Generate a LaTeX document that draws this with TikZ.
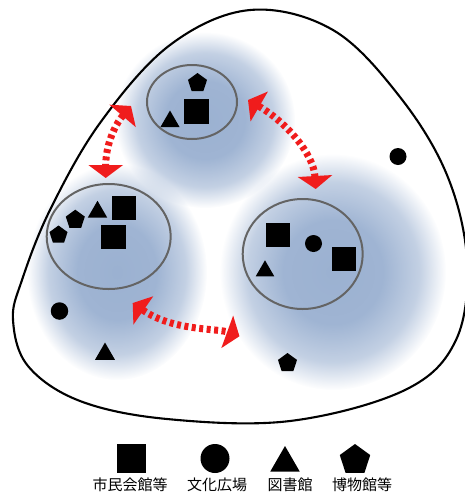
\documentclass[tikz,border=0pt]{standalone}
\usepackage{fontspec}
\newfontfamily\jpfont{Noto Sans CJK JP}
\usepackage{color}
\usepackage{tikz}
\usetikzlibrary{shapes.geometric,arrows.meta,fadings}
\definecolor{zoneblue}{RGB}{155,177,209}
\definecolor{ringgray}{RGB}{100,100,100}
\definecolor{linkred}{RGB}{240,28,28}
\pgfdeclareradialshading{zoneshade}{\pgfpointorigin}{color(0bp)=(transparent!0); color(11bp)=(transparent!4); color(19bp)=(transparent!40); color(25bp)=(transparent!100); color(50bp)=(transparent!100)}
\pgfdeclarefading{zonefade}{\pgfuseshading{zoneshade}}

\begin{document}
\begin{tikzpicture}[x=1pt,y=-1pt,
  zone/.style={ellipse,draw=ringgray,line width=2pt,inner sep=0pt},
  hall/.style={fill=black,inner sep=0pt,minimum size=#1},hall/.default=24pt,
  plaza/.style={circle,fill=black,inner sep=0pt,minimum size=#1},plaza/.default=17pt,
  library/.style={regular polygon,regular polygon sides=3,fill=black,inner sep=0pt,minimum size=#1},library/.default=22pt,
  museum/.style={regular polygon,regular polygon sides=5,fill=black,inner sep=0pt,minimum size=#1},museum/.default=20pt,
  link/.style={draw=linkred,line width=7pt,dash pattern=on 4pt off 3.5pt,{Triangle[width=34pt,length=13pt]}-{Triangle[width=34pt,length=13pt]}},
  caption/.style={font=\jpfont\fontsize{15}{17}\selectfont,inner sep=0pt}]
\useasboundingbox (0,0) rectangle (465,499);

% blue areas
\fill[zoneblue,path fading=zonefade] (205,120) ellipse (90 and 88);
\fill[zoneblue,path fading=zonefade] (117,272) ellipse (90 and 108);
\fill[zoneblue,path fading=zonefade] (333,272) ellipse (113 and 118);

% city
\draw[line width=2.1pt,line join=round] plot[smooth cycle,tension=0.6] coordinates {
  (250,10) (333,30) (400,97) (447,175) (467,260) (456,340) (405,390)
  (290,421) (167,419) (80,401) (28,366) (13,320) (22,280) (50,210) (100,123) (170,45)};

% zones
\node[zone,minimum width=90pt,minimum height=74pt] (topzone) at (192,102) {};
\node[zone,minimum width=124pt,minimum height=105pt] (westzone) at (108.7,236.5) {};
\node[zone,minimum width=120pt,minimum height=110pt] (eastzone) at (302.7,254) {};

% facilities
\node[museum] (tmus) at (197.5,83) {};
\node[hall=25pt] (thall) at (196,111.5) {};
\node[library] (tlib) at (170,121.5) {};

\node[hall] (whall1) at (123.7,208) {};
\node[hall=24.5pt] (whall2) at (113.3,237.2) {};
\node[library=22.5pt] (wlib) at (97.5,212) {};
\node[museum] (wmus1) at (75.3,219.7) {};
\node[museum=19pt] (wmus2) at (58.5,235) {};

\node[hall] (ehall1) at (278,234.5) {};
\node[hall] (ehall2) at (343.5,259) {};
\node[plaza] (eplaza) at (313.5,243.5) {};
\node[library=21.5pt] (elib) at (265,271) {};

\node[plaza] (plaza1) at (398,156.5) {};
\node[plaza=17.5pt] (plaza2) at (59.5,311) {};
\node[library=23pt] (lib1) at (105,354) {};
\node[museum] (mus1) at (287.5,363) {};

% links
\draw[link] ([xshift=-15pt,yshift=-4pt]topzone.west) .. controls +(-17,20) and +(0,-32) .. ([xshift=-3pt,yshift=5pt]westzone.north);
\draw[link] ([xshift=10pt,yshift=2pt]topzone.east) .. controls +(38,22) and +(-2,-35) .. ([xshift=13pt,yshift=9pt]eastzone.north);
\draw[link] ([xshift=24pt,yshift=-13pt]westzone.south) .. controls +(40,28) and +(-22,-8) .. ([xshift=-22pt,yshift=-41pt]eastzone.225);

% legend
\node[hall=29pt] (khall) at (131,458.5) {};
\node[plaza=29pt] (kplaza) at (215,458.5) {};
\node[library=34pt] (klib) at (285,463) {};
\node[museum=32pt] (kmus) at (355,460) {};
\node[caption] (lhall) at (130,485) {市民会館等};
\node[caption] (lplaza) at (217,485) {文化広場};
\node[caption] (llib) at (290,485) {図書館};
\node[caption] (lmus) at (362,485) {博物館等};
\end{tikzpicture}
\end{document}
